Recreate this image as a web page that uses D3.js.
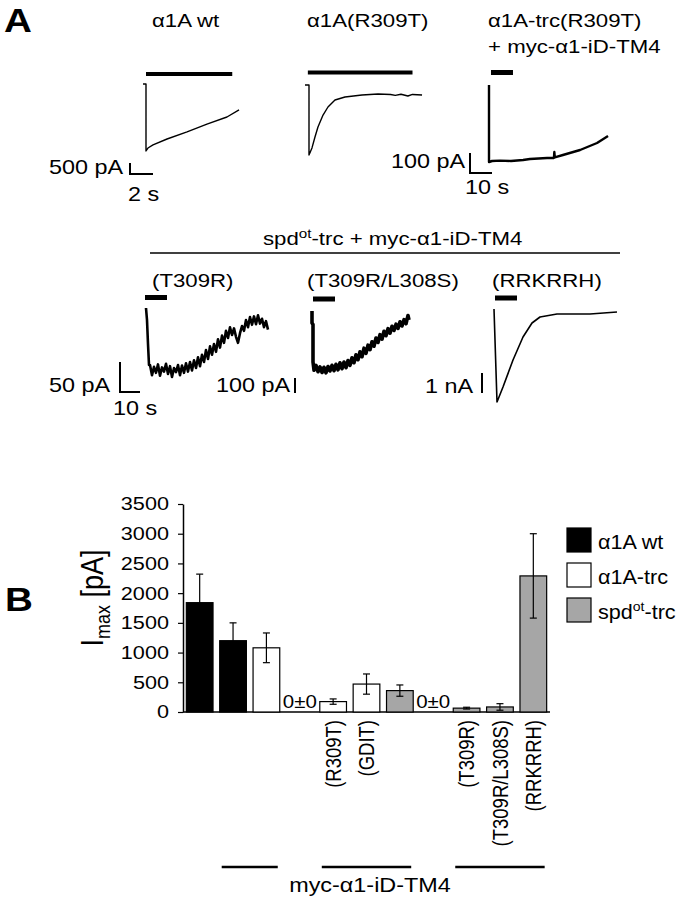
<!DOCTYPE html>
<html>
<head>
<meta charset="utf-8">
<script src="https://cdn.jsdelivr.net/npm/d3@7"></script>
<style>
body { margin: 0; background: #fff; }
svg { display: block; }
</style>
</head>
<body>
<div id="chart"></div>
<script>
// panel A traces, [time (s), current (pA)]
var traceWt = [[-0.26, 0], [0, 0], [0, -3045], [0.17, -2910], [0.61, -2770], [1.83, -2500],
	[3.57, -2180], [5.3, -1820], [7.04, -1500], [8.09, -1180]];
var traceR309T = [[-0.35, 0], [0, 0], [0, -3180], [0.26, -2860], [0.52, -2365], [0.78, -1910],
	[1.22, -1365], [1.65, -1000], [2.26, -680], [3.13, -545], [4.61, -455], [6.0, -410],
	[7.1, -430], [7.5, -470], [8.0, -420], [8.6, -500], [9.0, -430], [9.83, -455]];
var traceTrc = [[0, 0], [0, -385], [1.4, -380], [5, -378], [10, -380], [15.5, -375], [18.6, -370],
	[26.4, -365], [29.5, -365], [29.7, -335], [29.9, -362], [33.6, -350], [41.4, -325],
	[49.1, -290], [54.1, -255]];
var traceT309R = [[0, 0], [0.5, -20], [1, -60], [1.5, -95], [2, -95], [3, -112], [4, -98], [5, -108],
	[6, -94], [7, -113], [8, -99], [9, -106], [10, -93], [11, -110], [12, -97], [13, -115],
	[14, -100], [15, -107], [16, -95], [17, -112], [18, -96], [19, -108], [20, -92], [21, -106],
	[22, -90], [23, -104], [24, -87], [25, -100], [26, -82], [27, -97], [28, -78], [29, -90],
	[30, -70], [31, -85], [32, -64], [33, -78], [34, -60], [35, -73], [36, -52], [37, -66],
	[38, -46], [39, -58], [40, -38], [41, -50], [42, -32], [43, -45], [44, -34], [45, -48],
	[46, -58], [47, -42], [48, -30], [49, -38], [50, -20], [51, -32], [52, -15], [53, -28],
	[54, -14], [55, -27], [56, -12], [57, -26], [58, -18], [59, -32], [60, -22], [61, -36]];
var traceL308S = [[0, 0], [0, -80], [0.5, -90], [0.5, -340], [1, -395], [2, -362], [3, -405],
	[4, -372], [5, -410], [6, -375], [7, -412], [8, -370], [9, -400], [10, -362], [11, -398],
	[12, -355], [13, -392], [14, -345], [15, -385], [16, -340], [17, -378], [18, -330],
	[19, -362], [20, -312], [21, -345], [22, -292], [23, -325], [24, -272], [25, -305],
	[26, -248], [27, -282], [28, -228], [29, -258], [30, -205], [31, -235], [32, -180],
	[33, -210], [34, -158], [35, -188], [36, -135], [37, -165], [38, -118], [39, -148],
	[40, -102], [41, -130], [42, -88], [43, -116], [44, -72], [45, -100], [46, -58],
	[47, -85], [48, -30], [48.5, -60]];
var traceRRKRRH = [[0, 0], [1.5, -4650], [4.5, -3900], [9.5, -2550], [14.5, -1400], [19, -700],
	[23, -400], [31.5, -250], [48, -250], [61.5, -150]];

// application periods [start, end] (s)
var appWt = [0, 7.5];
var appR309T = [-0.1, 9.0];
var appTrc = [0.9, 10.9];
var appT309R = [-0.5, 10.5];
var appL308S = [0.5, 11.5];
var appRRKRRH = [0.5, 11.5];

// panel B
var barLabels = ['', '', '', '', '(R309T)', '(GDIT)', '', '', '(T309R)', '(T309R/L308S)', '(RRKRRH)'];
var barGroups = ['wt', 'wt', 'trc', 'trc', 'trc', 'trc', 'spd', 'spd', 'spd', 'spd', 'spd'];
var barMeans = [1840, 1200, 1080, 0, 175, 470, 360, 0, 65, 85, 2290];
var barErrors = [480, 300, 250, 0, 45, 170, 95, 0, 15, 55, 710];
var zeroLabels = ['', '', '', '0±0', '', '', '', '0±0', '', '', ''];
var yTicks = [0, 500, 1000, 1500, 2000, 2500, 3000, 3500];
var groupSpans = [[1, 2], [4, 6], [8, 10]];
var legendKeys = ['wt', 'trc', 'spd'];
var legendLabels = [['α1A wt', ''], ['α1A-trc', ''], ['spd', 'ot', '-trc']];

var SX = 1.17;
var FONT = "'Liberation Sans', Arial, Helvetica, sans-serif";
var fills = {wt: '#000', trc: '#fff', spd: '#a6a6a6'};

var svg = d3.select('#chart')
	.append('svg')
	.attr('width', 684)
	.attr('height', 900)
	.style('font-family', FONT);

function addText(g, x, y, str, size, anchor, weight) {
	return g.append('text')
		.attr('transform', 'translate(' + x + ',' + y + ') scale(' + SX + ',1)')
		.attr('text-anchor', anchor || 'start')
		.attr('font-size', size)
		.attr('font-weight', weight || 'normal')
		.attr('fill', '#000')
		.text(str);
}

// ---------- panel A ----------
addText(svg, 4, 32, 'A', 33, 'start', 'bold');

addText(svg, 152, 27, 'α1A wt', 19);
addText(svg, 307, 27, 'α1A(R309T)', 19);
addText(svg, 488, 27, 'α1A-trc(R309T)', 19);
addText(svg, 488, 53, '+ myc-α1-iD-TM4', 19);

var grp = svg.append('text')
	.attr('transform', 'translate(263,245) scale(' + SX + ',1)')
	.attr('font-size', 19);
grp.append('tspan').text('spd');
grp.append('tspan').attr('font-size', 13).attr('dy', -7).text('ot');
grp.append('tspan').attr('dy', 7).text('-trc + myc-α1-iD-TM4');

svg.append('line')
	.attr('x1', 150).attr('x2', 620)
	.attr('y1', 253).attr('y2', 253)
	.attr('stroke', '#000')
	.attr('stroke-width', 1.3);

addText(svg, 152, 287, '(T309R)', 19);
addText(svg, 307, 287, '(T309R/L308S)', 19);
addText(svg, 492, 287, '(RRKRRH)', 19);

var panels = [
	{data: traceWt, app: appWt, x0: 146, y0: 84, tUnit: 2, tPx: 23, iUnit: 500, iPx: 11, appY: 74, appH: 4, lw: 1.4},
	{data: traceR309T, app: appR309T, x0: 309, y0: 85, tUnit: 2, tPx: 23, iUnit: 500, iPx: 11, appY: 72.5, appH: 4, lw: 1.4},
	{data: traceTrc, app: appTrc, x0: 489, y0: 85, tUnit: 10, tPx: 22, iUnit: 100, iPx: 20, appY: 72.5, appH: 5, lw: 2.4},
	{data: traceT309R, app: appT309R, x0: 146, y0: 308, tUnit: 10, tPx: 20, iUnit: 50, iPx: 30, appY: 297.5, appH: 5, lw: 2.6},
	{data: traceL308S, app: appL308S, x0: 312, y0: 311, tUnit: 10, tPx: 20, iUnit: 100, iPx: 15, appY: 299, appH: 5, lw: 3.6},
	{data: traceRRKRRH, app: appRRKRRH, x0: 494, y0: 309, tUnit: 10, tPx: 20, iUnit: 1000, iPx: 20, appY: 298, appH: 5, lw: 1.6}
];

panels.forEach(function(p) {
	p.x = d3.scaleLinear().domain([0, p.tUnit]).range([p.x0, p.x0 + p.tPx]);
	p.y = d3.scaleLinear().domain([0, -p.iUnit]).range([p.y0, p.y0 + p.iPx]);

	svg.append('rect')
		.attr('x', p.x(p.app[0]))
		.attr('width', p.x(p.app[1]) - p.x(p.app[0]))
		.attr('y', p.appY - p.appH / 2)
		.attr('height', p.appH)
		.attr('fill', '#000');

	var line = d3.line()
		.x(function(d) {return p.x(d[0]);})
		.y(function(d) {return p.y(d[1]);});

	svg.append('path')
		.datum(p.data)
		.attr('d', line)
		.attr('fill', 'none')
		.attr('stroke', '#000')
		.attr('stroke-linejoin', 'round')
		.attr('stroke-width', p.lw);
});

var scaleBars = [
	{panel: 0, x: 130, y: 174, horiz: true, iText: '500 pA', tText: '2 s', ix: 123, iy: 174, tx: 128, ty: 201},
	{panel: 2, x: 470, y: 173, horiz: true, iText: '100 pA', tText: '10 s', ix: 465, iy: 168, tx: 465, ty: 194},
	{panel: 3, x: 120, y: 392, horiz: true, iText: '50 pA', tText: '10 s', ix: 110, iy: 392, tx: 113, ty: 415},
	{panel: 4, x: 295, y: 393, horiz: false, iText: '100 pA', ix: 290, iy: 392},
	{panel: 5, x: 482, y: 393, horiz: false, iText: '1 nA', ix: 473, iy: 393}
];

scaleBars.forEach(function(s) {
	var p = panels[s.panel];
	var vLen = p.y(-p.iUnit) - p.y(0);
	var hLen = p.x(p.tUnit) - p.x(0);
	var d = 'M' + s.x + ',' + (s.y - vLen) + 'V' + s.y;
	if (s.horiz) {
		d += 'H' + (s.x + hLen);
	}
	svg.append('path')
		.attr('d', d)
		.attr('fill', 'none')
		.attr('stroke', '#000')
		.attr('stroke-width', 2);
	addText(svg, s.ix, s.iy, s.iText, 20, 'end');
	if (s.horiz) {
		addText(svg, s.tx, s.ty, s.tText, 20, 'start');
	}
});

// ---------- panel B ----------
addText(svg, 5, 611, 'B', 33, 'start', 'bold');

var y = d3.scaleLinear().domain([0, 3500]).range([712, 504]);
var x = d3.scaleBand()
	.domain(d3.range(barMeans.length))
	.range([183, 550])
	.paddingInner(0.2)
	.paddingOuter(0.1);

var yAxis = svg.append('g')
	.attr('transform', 'translate(183,0)')
	.call(d3.axisLeft(y)
		.tickValues(yTicks)
		.tickFormat(d3.format('d'))
		.tickSize(5)
		.tickSizeOuter(0)
		.tickPadding(7));
yAxis.attr('font-family', FONT).attr('font-size', 18.5);
yAxis.select('.domain').attr('stroke-width', 1.5);
yAxis.selectAll('.tick line').attr('stroke-width', 1.2);
yAxis.selectAll('.tick text')
	.attr('fill', '#000')
	.attr('transform', 'scale(' + SX + ',1)');

svg.append('line')
	.attr('x1', 183).attr('x2', 550)
	.attr('y1', y(0)).attr('y2', y(0))
	.attr('stroke', '#000')
	.attr('stroke-width', 1.5);

var idx = d3.range(barMeans.length).filter(function(i) {return barMeans[i] > 0;});

svg.selectAll('rect.bar')
	.data(idx)
	.enter()
	.append('rect')
	.attr('class', 'bar')
	.attr('x', function(i) {return x(i);})
	.attr('width', x.bandwidth())
	.attr('y', function(i) {return y(barMeans[i]);})
	.attr('height', function(i) {return y(0) - y(barMeans[i]);})
	.attr('fill', function(i) {return fills[barGroups[i]];})
	.attr('stroke', '#000')
	.attr('stroke-width', 1.2);

var errG = svg.selectAll('g.err')
	.data(idx)
	.enter()
	.append('g')
	.attr('class', 'err')
	.attr('stroke', '#000')
	.attr('stroke-width', 1.2);

errG.append('line')
	.attr('x1', function(i) {return x(i) + x.bandwidth() / 2;})
	.attr('x2', function(i) {return x(i) + x.bandwidth() / 2;})
	.attr('y1', function(i) {return y(barMeans[i] + barErrors[i]);})
	.attr('y2', function(i) {return y(barMeans[i] - barErrors[i]);});

[1, -1].forEach(function(sign) {
	errG.append('line')
		.attr('x1', function(i) {return x(i) + x.bandwidth() / 2 - 3.5;})
		.attr('x2', function(i) {return x(i) + x.bandwidth() / 2 + 3.5;})
		.attr('y1', function(i) {return y(barMeans[i] + sign * barErrors[i]);})
		.attr('y2', function(i) {return y(barMeans[i] + sign * barErrors[i]);});
});

zeroLabels.forEach(function(t, i) {
	if (t) {
		addText(svg, x(i) + x.bandwidth() / 2, y(0) - 4, t, 17.5, 'middle');
	}
});

barLabels.forEach(function(t, i) {
	if (t) {
		svg.append('text')
			.attr('transform', 'translate(' + (x(i) + x.bandwidth() / 2) + ',720) scale(' + SX + ',1) rotate(-90)')
			.attr('text-anchor', 'end')
			.attr('dy', '0.35em')
			.attr('font-size', 18.5)
			.attr('fill', '#000')
			.text(t);
	}
});

groupSpans.forEach(function(s) {
	svg.append('line')
		.attr('x1', x(s[0]) + 2)
		.attr('x2', x(s[1]) + x.bandwidth() - 2)
		.attr('y1', 867).attr('y2', 867)
		.attr('stroke', '#000')
		.attr('stroke-width', 2.5);
});
addText(svg, 370, 892, 'myc-α1-iD-TM4', 20, 'middle');

var ylab = svg.append('text')
	.attr('transform', 'translate(103,598) scale(' + SX + ',1) rotate(-90)')
	.attr('text-anchor', 'middle')
	.attr('font-size', 27)
	.attr('fill', '#000');
ylab.append('tspan').text('I');
ylab.append('tspan').attr('font-size', 18).attr('dy', 6).text('max');
ylab.append('tspan').attr('dy', -6).text(' [pA]');

legendKeys.forEach(function(k, i) {
	var ly = 528 + i * 35;
	svg.append('rect')
		.attr('x', 567).attr('y', ly)
		.attr('width', 24).attr('height', 24)
		.attr('fill', fills[k])
		.attr('stroke', '#000')
		.attr('stroke-width', 1.2);
	var t = svg.append('text')
		.attr('transform', 'translate(598,' + (ly + 21) + ') scale(1.08,1)')
		.attr('font-size', 20)
		.attr('fill', '#000');
	t.append('tspan').text(legendLabels[i][0]);
	if (legendLabels[i][1]) {
		t.append('tspan').attr('font-size', 13).attr('dy', -8).text(legendLabels[i][1]);
		t.append('tspan').attr('dy', 8).text(legendLabels[i][2]);
	}
});
</script>
</body>
</html>
